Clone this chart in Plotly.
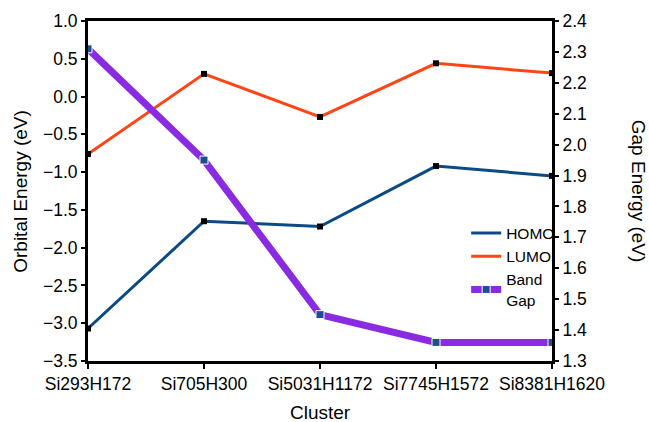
import plotly.graph_objects as go

# Cluster labels and computed energies (eV)
clusters = ["Si293H172", "Si705H300", "Si5031H1172", "Si7745H1572", "Si8381H1620"]
homo = [-3.07, -1.65, -1.72, -0.92, -1.05]
lumo = [-0.76, 0.30, -0.27, 0.44, 0.31]
band_gap = [2.31, 1.95, 1.45, 1.36, 1.36]

FONT = "Liberation Sans, Arial, sans-serif"
HOMO_C = "#0b4a85"
LUMO_C = "#ff4515"
GAP_C = "#8a2be2"

fig = go.Figure()

# orbital energy lines (legend shows plain line swatches)
fig.add_trace(go.Scatter(
    x=clusters, y=homo, name="HOMO", mode="lines",
    line=dict(color=HOMO_C, width=3),
))
fig.add_trace(go.Scatter(
    x=clusters, y=lumo, name="LUMO", mode="lines",
    line=dict(color=LUMO_C, width=3),
))
# black square point markers on the orbital lines
for vals in (homo, lumo):
    fig.add_trace(go.Scatter(
        x=clusters, y=vals, mode="markers", showlegend=False,
        marker=dict(symbol="square", size=6, color="black"),
        hoverinfo="skip",
    ))

fig.add_trace(go.Scatter(
    x=clusters, y=band_gap, name="Band<br>Gap", mode="lines+markers",
    line=dict(color=GAP_C, width=7),
    marker=dict(symbol="square", size=8, color="#1d4f8f",
                line=dict(color="white", width=1)),
    yaxis="y2",
))

fig.update_layout(
    width=649, height=422,
    margin=dict(l=88, r=97, t=21, b=61),
    plot_bgcolor="white", paper_bgcolor="white",
    font=dict(family=FONT, size=17, color="black"),
    showlegend=True,
    legend=dict(
        x=0.815, y=0.425, xanchor="left", yanchor="top",
        bgcolor="rgba(0,0,0,0)", font=dict(size=15.5),
        itemwidth=30,
    ),
    xaxis=dict(
        type="category", range=[0, 4],
        showline=True, linecolor="black", linewidth=3, mirror=True,
        ticks="outside", ticklen=5, tickwidth=2, tickcolor="black",
        showgrid=False, zeroline=False,
        tickfont=dict(size=17.5),
    ),
    yaxis=dict(
        range=[-3.5, 1.0], dtick=0.5, tickformat=".1f",
        showline=True, linecolor="black", linewidth=3,
        ticks="outside", ticklen=4, tickwidth=2, tickcolor="black",
        showgrid=False, zeroline=False,
        tickfont=dict(size=17.5),
    ),
    yaxis2=dict(
        range=[1.3, 2.4], dtick=0.1, tickformat=".1f",
        overlaying="y", side="right",
        showline=True, linecolor="black", linewidth=3,
        ticks="outside", ticklen=4, tickwidth=2, tickcolor="black",
        showgrid=False, zeroline=False,
        tickfont=dict(size=17.5),
    ),
    annotations=[
        dict(text="Orbital Energy (eV)", xref="paper", yref="paper",
             x=-0.147, y=0.5, xanchor="center", yanchor="middle",
             textangle=-90, showarrow=False, font=dict(size=19)),
        dict(text="Gap Energy (eV)", xref="paper", yref="paper",
             x=1.188, y=0.5, xanchor="center", yanchor="middle",
             textangle=90, showarrow=False, font=dict(size=19)),
        dict(text="Cluster", xref="paper", yref="paper",
             x=0.5, y=-0.152, xanchor="center", yanchor="middle",
             showarrow=False, font=dict(size=19)),
    ],
)

fig.write_html("out.html")
